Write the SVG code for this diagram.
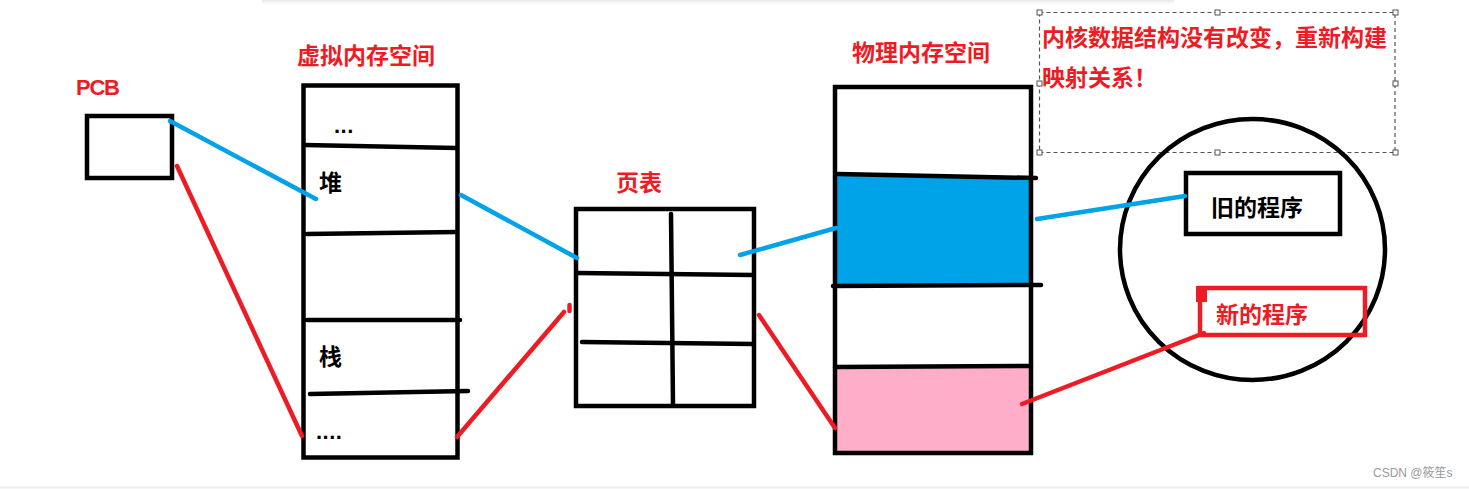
<svg xmlns="http://www.w3.org/2000/svg" width="1469" height="489" viewBox="0 0 1469 489">
<style>
.box{fill:none;stroke:#000;stroke-width:4.5}
.ln{stroke:#000;stroke-width:4.5;stroke-linecap:round}
.blue{stroke:#00A2E8;stroke-width:4.5;stroke-linecap:round;fill:none}
.red{stroke:#ED1C24;stroke-width:4.5;stroke-linecap:round;fill:none}
.t{font-family:"Noto Sans CJK SC","Noto Sans",sans-serif;font-weight:bold;font-size:23px}
.tr{fill:#ED1C24}
.tk{fill:#000}
.dots{font-family:"Liberation Sans",Arial,sans-serif;font-weight:bold;font-size:22px;fill:#000}
.dash{fill:none;stroke:#555;stroke-width:1.2;stroke-dasharray:4 3}
.hd{fill:#fff;stroke:#555;stroke-width:1}
</style>
<defs>
<linearGradient id="sh" x1="0" y1="0" x2="0" y2="1">
<stop offset="0" stop-color="#e6e6e6"/>
<stop offset="1" stop-color="#fff" stop-opacity="0"/>
</linearGradient>
</defs>
<rect width="1469" height="489" fill="#fff"/>
<rect x="262" y="0" width="912" height="7" fill="url(#sh)"/>
<line x1="0" y1="487.5" x2="1469" y2="487.5" stroke="#eee" stroke-width="2"/>

<g id="pcb">
<text x="76" y="95" font-family="Liberation Sans,Arial,sans-serif" font-weight="bold" font-size="22" fill="#ED1C24" textLength="44">PCB</text>
<rect class="box" x="87" y="116" width="85" height="62"/>
</g>

<g id="virtual-memory">
<text class="t tr" x="297" y="64">虚拟内存空间</text>
<rect class="box" x="303.5" y="85.5" width="154" height="372"/>
<line class="ln" x1="304" y1="145" x2="457" y2="148"/>
<line class="ln" x1="307" y1="234" x2="457" y2="232"/>
<line class="ln" x1="307" y1="320" x2="460" y2="320"/>
<line class="ln" x1="310" y1="394" x2="468" y2="391"/>
<text class="dots" x="334" y="133" letter-spacing="0.5">...</text>
<text class="t tk" x="319" y="191" font-size="22">堆</text>
<text class="t tk" x="319" y="365" font-size="22">栈</text>
<text class="dots" x="316" y="439" letter-spacing="0.5">....</text>
</g>

<g id="page-table">
<text class="t tr" x="616" y="191">页表</text>
<rect class="box" x="576" y="209" width="178" height="197"/>
<line class="ln" x1="671" y1="214" x2="673" y2="405"/>
<line class="ln" x1="577" y1="273" x2="753" y2="275"/>
<line class="ln" x1="582" y1="342" x2="753" y2="344"/>
</g>

<g id="physical-memory">
<text class="t tr" x="852" y="61">物理内存空间</text>
<polygon points="835,174 1031,177 1031,286 835,286" fill="#00A2E8"/>
<rect x="835" y="367" width="196" height="86" fill="#FFAEC9"/>
<rect class="box" x="835" y="87" width="196" height="366"/>
<line class="ln" x1="838" y1="174" x2="1036" y2="178"/>
<line class="ln" x1="833" y1="286" x2="1041" y2="285"/>
<line class="ln" x1="835" y1="367" x2="1031" y2="366"/>
</g>

<g id="note">
<rect class="dash" x="1039.5" y="12.5" width="355.5" height="140"/>
<rect class="hd" x="1037" y="10" width="5" height="5"/>
<rect class="hd" x="1215" y="10" width="5" height="5"/>
<rect class="hd" x="1393" y="10" width="5" height="5"/>
<rect class="hd" x="1037" y="81" width="5" height="5"/>
<rect class="hd" x="1393" y="81" width="5" height="5"/>
<rect class="hd" x="1037" y="150" width="5" height="5"/>
<rect class="hd" x="1215" y="150" width="5" height="5"/>
<rect class="hd" x="1393" y="150" width="5" height="5"/>
<text class="t tr" x="1042" y="46">内核数据结构没有改变，重新构建</text>
<text class="t tr" x="1042" y="86">映射关系！</text>
</g>

<g id="process-circle">
<ellipse cx="1252.5" cy="249.5" rx="132.5" ry="130.5" fill="none" stroke="#000" stroke-width="4.5"/>
</g>

<g id="old-program">
<rect class="box" x="1186" y="173" width="154" height="61"/>
<text class="t tk" x="1211" y="216">旧的程序</text>
</g>

<g id="new-program">
<rect x="1200" y="288" width="165" height="47" fill="none" stroke="#ED1C24" stroke-width="4.5"/>
<rect x="1196" y="286" width="11" height="16" fill="#ED1C24"/>
<text class="t tr" x="1216" y="323">新的程序</text>
</g>

<g id="connectors">
<line class="blue" x1="170" y1="121" x2="316" y2="199"/>
<line class="red" x1="177" y1="166" x2="302" y2="436"/>
<line class="blue" x1="461" y1="195" x2="577" y2="258"/>
<line class="red" x1="457" y1="437" x2="564" y2="312"/>
<line class="red" x1="569.5" y1="305" x2="569.5" y2="311"/>
<line class="blue" x1="740" y1="255" x2="836" y2="228"/>
<line class="red" x1="759" y1="315" x2="835" y2="428"/>
<line class="blue" x1="1037" y1="219" x2="1185" y2="196"/>
<line class="red" x1="1022" y1="404" x2="1204" y2="333"/>
</g>

<text x="1373" y="477" font-family="Liberation Sans,Arial,'Noto Sans CJK SC',sans-serif" font-size="12" fill="#999">CSDN @筱笙s</text>
</svg>
